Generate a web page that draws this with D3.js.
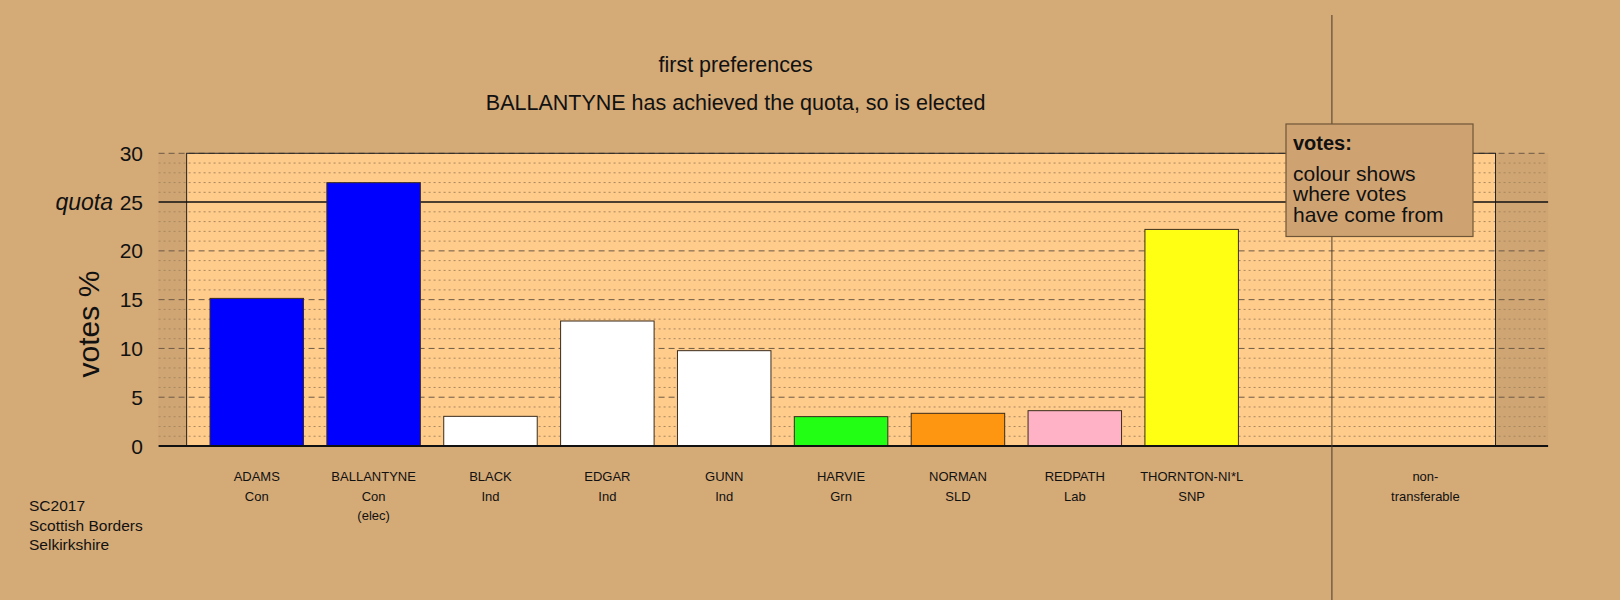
<!DOCTYPE html>
<html>
<head>
<meta charset="utf-8">
<script src="https://cdn.jsdelivr.net/npm/d3@7"></script>
<style>
  html, body { margin: 0; padding: 0; background: #d4aa77; }
  svg { display: block; font-family: "Liberation Sans", Arial, Helvetica, sans-serif; }
</style>
</head>
<body>
<svg id="chart" width="1620" height="600"></svg>
<script>
// ---- data ----
const candidates = ["ADAMS", "BALLANTYNE", "BLACK", "EDGAR", "GUNN", "HARVIE", "NORMAN", "REDPATH", "THORNTON-NI*L"];
const parties    = ["Con", "Con", "Ind", "Ind", "Ind", "Grn", "SLD", "Lab", "SNP"];
const notes      = ["", "(elec)", "", "", "", "", "", "", ""];
const votesPct   = [15.13, 26.99, 3.04, 12.81, 9.77, 3.01, 3.35, 3.62, 22.2];
const barColours = ["#0000ff", "#0000ff", "#ffffff", "#ffffff", "#ffffff", "#22ff14", "#ff9611", "#ffb2c6", "#ffff14"];
const nonTransferLabel = ["non-", "transferable"];
const nonTransferValue = 0;
const yTicks = [0, 5, 10, 15, 20, 25, 30];
const quota = 25;
const titleLines = ["first preferences", "BALLANTYNE has achieved the quota, so is elected"];
const footLines = ["SC2017", "Scottish Borders", "Selkirkshire"];
const legendTitle = "votes:";
const legendLines = ["colour shows", "where votes", "have come from"];

// ---- scales ----
const svg = d3.select("#chart");
const x = d3.scaleLinear().domain([0, 10]).range([256.75, 1425.4]);
const y = d3.scaleLinear().domain([0, 30]).range([446, 153.3]);
const step = x(1) - x(0);
const barW = step * 0.8;

const axL = x(-0.84), axR = x(11.05);
const frL = x(-0.6), frR = x(10.6);

// background
svg.append("rect").attr("width", 1620).attr("height", 600).attr("fill", "#d4aa77");

// side strips
svg.append("rect").attr("x", axL).attr("y", y(30)).attr("width", frL - axL).attr("height", y(0) - y(30)).attr("fill", "#cfa574");
svg.append("rect").attr("x", frR).attr("y", y(30)).attr("width", axR - frR).attr("height", y(0) - y(30)).attr("fill", "#cfa574");
// plot area
svg.append("rect").attr("x", frL).attr("y", y(30)).attr("width", frR - frL).attr("height", y(0) - y(30)).attr("fill", "#ffcc8c");

// minor gridlines
const minor = d3.range(1, 30).filter(v => v % 5 !== 0);
svg.append("g").selectAll("line").data(minor).join("line")
  .attr("x1", axL).attr("x2", axR)
  .attr("y1", d => y(d)).attr("y2", d => y(d))
  .attr("stroke", "#a9885e").attr("stroke-width", 1).attr("stroke-dasharray", "2,3");

// major gridlines
svg.append("g").selectAll("line").data([5, 10, 15, 20, 30]).join("line")
  .attr("x1", axL).attr("x2", axR)
  .attr("y1", d => y(d)).attr("y2", d => y(d))
  .attr("stroke", "#6e5a44").attr("stroke-width", 1).attr("stroke-dasharray", "6,4");

// frame
svg.append("rect").attr("x", frL).attr("y", y(30)).attr("width", frR - frL).attr("height", y(0) - y(30))
  .attr("fill", "none").attr("stroke", "#222").attr("stroke-width", 1);

// quota line
svg.append("line").attr("x1", axL).attr("x2", axR).attr("y1", y(quota)).attr("y2", y(quota))
  .attr("stroke", "#111").attr("stroke-width", 1.5);

// bars
svg.append("g").selectAll("rect").data(votesPct).join("rect")
  .attr("x", (d, i) => x(i) - barW / 2)
  .attr("y", d => y(d))
  .attr("width", barW)
  .attr("height", d => y(0) - y(d))
  .attr("fill", (d, i) => barColours[i])
  .attr("stroke", "#3a2c1c").attr("stroke-width", 1);

// baseline
svg.append("line").attr("x1", axL).attr("x2", axR).attr("y1", y(0)).attr("y2", y(0))
  .attr("stroke", "#111").attr("stroke-width", 2);

// separator vertical line
svg.append("line").attr("x1", x(9.2)).attr("x2", x(9.2)).attr("y1", 15).attr("y2", 600)
  .attr("stroke", "#4a3c2c").attr("stroke-width", 1);

// y tick labels
svg.append("g").selectAll("text").data(yTicks).join("text")
  .attr("x", 143).attr("y", d => y(d)).attr("dy", "0.36em")
  .attr("text-anchor", "end").attr("font-size", 21).attr("fill", "#111")
  .text(d => d);
svg.append("text").attr("x", 113).attr("y", y(quota)).attr("dy", "0.36em")
  .attr("text-anchor", "end").attr("font-size", 23).attr("font-style", "italic").attr("fill", "#111")
  .text("quota");

// y axis title
svg.append("text").attr("transform", `translate(99, ${y(12.5)}) rotate(-90)`)
  .attr("text-anchor", "middle").attr("font-size", 30).attr("fill", "#111")
  .text("votes %");

// category labels
const catG = svg.append("g").attr("font-size", 13).attr("fill", "#111").attr("text-anchor", "middle");
candidates.forEach((c, i) => {
  const lines = [c, parties[i], notes[i]].filter(s => s);
  lines.forEach((s, j) => {
    catG.append("text").attr("x", x(i)).attr("y", 481 + j * 19.6).text(s);
  });
});
nonTransferLabel.forEach((s, j) => {
  catG.append("text").attr("x", x(10)).attr("y", 481 + j * 19.6).text(s);
});

// titles
svg.append("g").attr("font-size", 21.5).attr("fill", "#111").attr("text-anchor", "middle")
  .selectAll("text").data(titleLines).join("text")
  .attr("x", 735.6).attr("y", (d, i) => 72 + i * 37.5).text(d => d);

// footer
svg.append("g").attr("font-size", 15.5).attr("fill", "#111")
  .selectAll("text").data(footLines).join("text")
  .attr("x", 29).attr("y", (d, i) => 511 + i * 19.6).text(d => d);

// legend
const lg = svg.append("g");
lg.append("rect").attr("x", 1286).attr("y", 124).attr("width", 187).attr("height", 112.5)
  .attr("fill", "#cfa371").attr("stroke", "#6e5538").attr("stroke-width", 1.2);
lg.append("text").attr("x", 1293).attr("y", 149.5).attr("font-size", 20).attr("font-weight", "bold").attr("fill", "#111").text(legendTitle);
lg.selectAll("text.l").data(legendLines).join("text").attr("class", "l")
  .attr("x", 1293).attr("y", (d, i) => 181 + i * 20.4)
  .attr("font-size", 21).attr("fill", "#111").text(d => d);
</script>
</body>
</html>
